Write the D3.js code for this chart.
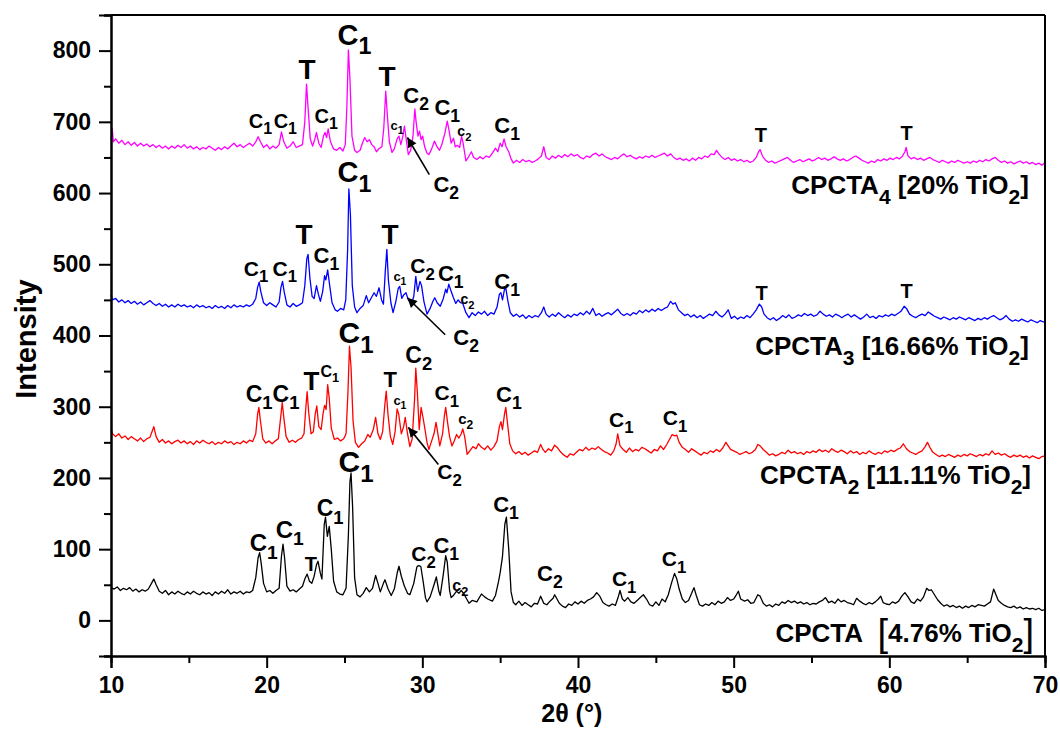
<!DOCTYPE html>
<html>
<head>
<meta charset="utf-8">
<script src="https://cdn.jsdelivr.net/npm/d3@7"></script>
<style>
  body { margin: 0; background: #fff; }
  svg text { font-family: "Liberation Sans", Arial, Helvetica, sans-serif; font-weight: bold; fill: #000; }
</style>
</head>
<body>
<div id="chart"></div>
<script>
// tick values
var xTicks = [10, 20, 30, 40, 50, 60, 70];
var xMinor = [15, 25, 35, 45, 55, 65];
var yTicks = [0, 100, 200, 300, 400, 500, 600, 700, 800];
var yMinor = [-50, 50, 150, 250, 350, 450, 550, 650, 750, 850];

// CPCTA [4.76% TiO2]  (2theta, intensity)
var cpcta = [[10.0,46],[10.2,44],[10.4,47],[10.6,42],[10.8,45],[11.0,43],[11.2,46],[11.4,41],[11.6,44],[11.8,40],[12.0,43],[12.2,41],[12.4,44],[12.6,52],[12.75,58],[12.9,50],[13.1,41],[13.3,38],[13.5,42],[13.7,36],[13.9,40],[14.1,37],[14.3,41],[14.5,38],[14.7,36],[14.9,40],[15.1,37],[15.3,41],[15.5,38],[15.7,36],[15.9,40],[16.1,37],[16.3,39],[16.5,35],[16.7,40],[16.9,37],[17.1,41],[17.3,38],[17.5,43],[17.7,37],[17.9,40],[18.1,38],[18.3,41],[18.5,37],[18.7,40],[18.9,39],[19.1,42],[19.3,60],[19.45,88],[19.55,95],[19.65,80],[19.8,52],[20.0,40],[20.2,42],[20.4,38],[20.6,42],[20.8,45],[20.95,90],[21.05,107],[21.15,88],[21.3,48],[21.5,41],[21.7,43],[21.9,40],[22.1,44],[22.3,48],[22.45,58],[22.6,65],[22.75,55],[22.9,52],[23.05,62],[23.2,78],[23.3,83],[23.45,66],[23.55,58],[23.7,135],[23.78,145],[23.9,118],[24.02,132],[24.15,100],[24.3,55],[24.5,40],[24.7,37],[24.9,36],[25.1,45],[25.25,120],[25.35,195],[25.42,207],[25.52,160],[25.65,60],[25.8,36],[26.0,33],[26.2,38],[26.4,46],[26.6,40],[26.8,45],[27.0,63],[27.15,52],[27.3,40],[27.5,52],[27.6,57],[27.8,44],[28.0,35],[28.2,44],[28.4,68],[28.5,76],[28.65,62],[28.85,48],[29.05,38],[29.2,36],[29.45,52],[29.65,75],[29.75,77],[29.9,76],[30.05,55],[30.2,32],[30.3,26],[30.5,33],[30.75,50],[30.9,61],[31.05,42],[31.15,35],[31.35,65],[31.5,91],[31.6,82],[31.75,42],[31.85,32],[32.0,35],[32.2,41],[32.35,38],[32.5,42],[32.65,38],[32.85,30],[33.0,24],[33.2,28],[33.5,26],[33.8,37],[34.0,33],[34.2,30],[34.5,27],[34.7,35],[34.9,55],[35.0,67],[35.15,90],[35.3,135],[35.4,145],[35.55,100],[35.7,40],[35.85,25],[36.0,22],[36.2,27],[36.4,21],[36.6,25],[36.8,22],[37.0,19],[37.2,24],[37.4,23],[37.6,34],[37.8,24],[38.0,22],[38.2,27],[38.4,31],[38.5,36],[38.65,30],[38.8,24],[39.0,20],[39.2,18],[39.4,23],[39.6,21],[39.8,26],[40.0,23],[40.2,27],[40.4,24],[40.6,28],[40.8,30],[41.0,33],[41.2,39],[41.4,34],[41.6,25],[41.8,22],[42.0,20],[42.2,23],[42.4,21],[42.6,34],[42.7,42],[42.85,30],[43.0,27],[43.2,32],[43.4,26],[43.6,24],[43.8,28],[44.0,32],[44.2,36],[44.4,30],[44.6,22],[44.8,20],[45.0,26],[45.2,21],[45.4,30],[45.6,26],[45.8,36],[46.0,52],[46.2,66],[46.35,58],[46.5,44],[46.7,30],[46.9,25],[47.1,28],[47.3,38],[47.45,46],[47.6,35],[47.8,22],[48.0,20],[48.2,23],[48.4,21],[48.6,25],[48.8,22],[49.0,27],[49.2,24],[49.4,26],[49.6,32],[49.8,28],[50.0,30],[50.15,35],[50.3,41],[50.45,30],[50.7,27],[50.9,29],[51.1,24],[51.3,25],[51.55,36],[51.7,34],[51.9,24],[52.1,20],[52.3,22],[52.5,19],[52.7,23],[52.9,21],[53.1,26],[53.3,24],[53.5,28],[53.7,25],[53.9,27],[54.1,24],[54.3,26],[54.5,23],[54.7,25],[54.9,22],[55.1,24],[55.3,23],[55.5,26],[55.7,28],[55.9,32],[56.1,25],[56.3,27],[56.5,24],[56.7,30],[56.9,26],[57.1,28],[57.3,25],[57.5,24],[57.7,22],[57.9,31],[58.1,27],[58.3,24],[58.5,22],[58.7,25],[58.9,23],[59.1,26],[59.3,30],[59.45,34],[59.6,25],[59.8,23],[60.0,22],[60.2,26],[60.4,24],[60.6,27],[60.8,34],[61.0,39],[61.2,33],[61.4,26],[61.6,24],[61.8,30],[62.0,27],[62.2,33],[62.4,45],[62.55,42],[62.7,43],[62.9,36],[63.1,29],[63.3,24],[63.5,20],[63.7,22],[63.9,19],[64.1,21],[64.3,18],[64.5,20],[64.7,17],[64.9,20],[65.1,18],[65.3,21],[65.5,19],[65.7,22],[65.9,21],[66.1,20],[66.3,23],[66.5,26],[66.7,44],[66.85,36],[67.0,28],[67.2,24],[67.4,21],[67.6,19],[67.8,18],[68.0,20],[68.2,17],[68.4,19],[68.6,16],[68.8,18],[69.0,16],[69.2,17],[69.4,15],[69.6,17],[69.8,14],[70.0,15]];

// CPCTA2 [11.11% TiO2]
var cpcta2 = [[10.0,268],[10.1,262],[10.3,258],[10.5,262],[10.7,256],[10.9,259],[11.1,254],[11.3,258],[11.5,255],[11.7,252],[11.9,256],[12.1,251],[12.3,255],[12.5,257],[12.65,266],[12.75,272],[12.9,258],[13.1,250],[13.3,254],[13.5,249],[13.7,252],[13.9,248],[14.1,251],[14.3,253],[14.5,249],[14.7,252],[14.9,248],[15.1,251],[15.3,247],[15.5,252],[15.7,249],[15.9,253],[16.1,250],[16.3,248],[16.5,251],[16.7,247],[16.9,250],[17.1,248],[17.3,252],[17.5,249],[17.7,251],[17.9,247],[18.1,250],[18.3,248],[18.5,252],[18.7,249],[18.9,253],[19.1,251],[19.3,262],[19.42,290],[19.5,299],[19.6,280],[19.75,255],[19.95,249],[20.15,252],[20.35,248],[20.55,252],[20.75,255],[20.9,285],[21.0,306],[21.1,285],[21.25,258],[21.45,250],[21.65,253],[21.85,250],[22.05,254],[22.25,256],[22.4,262],[22.52,300],[22.6,321],[22.7,292],[22.85,262],[23.0,265],[23.12,290],[23.22,301],[23.35,272],[23.5,268],[23.62,290],[23.72,302],[23.82,296],[23.92,331],[24.02,312],[24.15,270],[24.35,254],[24.55,256],[24.75,252],[24.95,255],[25.1,262],[25.22,320],[25.32,385],[25.42,355],[25.55,280],[25.7,250],[25.9,243],[26.1,248],[26.3,252],[26.5,261],[26.65,257],[26.85,268],[27.0,285],[27.15,262],[27.3,254],[27.45,265],[27.58,300],[27.68,322],[27.8,288],[27.95,258],[28.1,247],[28.25,265],[28.38,297],[28.48,290],[28.65,262],[28.8,272],[28.9,285],[29.05,262],[29.2,244],[29.35,255],[29.5,310],[29.58,354],[29.68,320],[29.8,268],[29.92,299],[30.05,284],[30.15,271],[30.3,250],[30.42,240],[30.6,252],[30.75,262],[30.88,278],[31.0,262],[31.12,245],[31.3,262],[31.42,288],[31.5,299],[31.62,278],[31.75,258],[31.9,245],[32.05,252],[32.2,261],[32.35,256],[32.5,262],[32.6,269],[32.72,258],[32.88,233],[33.05,238],[33.25,244],[33.45,241],[33.6,248],[33.8,243],[34.0,240],[34.2,245],[34.4,239],[34.6,244],[34.8,252],[34.95,272],[35.05,279],[35.15,268],[35.28,290],[35.36,299],[35.48,275],[35.62,248],[35.8,238],[36.0,234],[36.2,237],[36.4,233],[36.6,236],[36.8,232],[37.0,235],[37.2,238],[37.4,236],[37.6,247],[37.75,240],[37.9,236],[38.1,241],[38.3,238],[38.5,246],[38.7,242],[38.9,236],[39.1,232],[39.3,229],[39.5,234],[39.7,232],[39.9,236],[40.1,240],[40.3,238],[40.5,243],[40.7,239],[40.9,242],[41.1,240],[41.3,244],[41.5,240],[41.7,237],[41.9,235],[42.1,232],[42.3,238],[42.45,248],[42.55,262],[42.7,245],[42.9,240],[43.1,236],[43.3,242],[43.5,237],[43.7,240],[43.9,238],[44.1,243],[44.3,241],[44.5,238],[44.7,235],[44.9,240],[45.1,238],[45.3,245],[45.5,240],[45.7,247],[45.9,255],[46.05,261],[46.2,259],[46.35,260],[46.5,250],[46.7,243],[46.9,240],[47.1,236],[47.3,241],[47.5,238],[47.7,235],[47.9,232],[48.1,236],[48.3,234],[48.5,238],[48.7,236],[48.9,240],[49.1,237],[49.3,242],[49.5,250],[49.65,245],[49.8,240],[50.0,238],[50.2,236],[50.4,233],[50.6,235],[50.8,237],[51.0,234],[51.2,236],[51.4,240],[51.55,247],[51.7,245],[51.9,240],[52.1,236],[52.3,232],[52.5,234],[52.7,231],[52.9,233],[53.1,236],[53.3,234],[53.5,239],[53.7,235],[53.9,237],[54.1,234],[54.3,236],[54.5,233],[54.7,237],[54.9,235],[55.1,238],[55.3,236],[55.5,240],[55.7,237],[55.9,239],[56.1,236],[56.3,241],[56.5,238],[56.7,236],[56.9,239],[57.1,237],[57.3,234],[57.5,238],[57.7,235],[57.9,237],[58.1,233],[58.3,236],[58.5,234],[58.7,238],[58.9,235],[59.1,233],[59.3,236],[59.5,234],[59.7,238],[59.9,236],[60.1,239],[60.3,237],[60.5,240],[60.7,242],[60.9,248],[61.1,241],[61.3,237],[61.5,235],[61.7,233],[61.9,236],[62.1,238],[62.3,244],[62.45,250],[62.6,243],[62.8,236],[63.0,233],[63.2,230],[63.4,232],[63.6,230],[63.8,233],[64.0,231],[64.2,229],[64.4,232],[64.6,230],[64.8,233],[65.0,231],[65.2,234],[65.4,232],[65.6,230],[65.8,233],[66.0,231],[66.2,234],[66.4,232],[66.6,238],[66.8,233],[67.0,235],[67.2,232],[67.4,234],[67.6,231],[67.8,229],[68.0,232],[68.2,230],[68.4,232],[68.6,229],[68.8,231],[69.0,228],[69.2,231],[69.4,229],[69.6,227],[69.8,230],[70.0,231]];

// CPCTA3 [16.66% TiO2]
var cpcta3 = [[10.0,457],[10.1,450],[10.3,452],[10.5,447],[10.7,450],[10.9,446],[11.1,449],[11.3,445],[11.5,448],[11.7,444],[11.9,447],[12.1,443],[12.3,446],[12.5,449],[12.7,445],[12.9,442],[13.1,445],[13.3,441],[13.5,444],[13.7,440],[13.9,443],[14.1,440],[14.3,444],[14.5,441],[14.7,443],[14.9,440],[15.1,442],[15.3,439],[15.5,443],[15.7,440],[15.9,442],[16.1,439],[16.3,441],[16.5,438],[16.7,442],[16.9,439],[17.1,441],[17.3,438],[17.5,442],[17.7,439],[17.9,443],[18.1,440],[18.3,442],[18.5,440],[18.7,443],[18.9,441],[19.1,444],[19.3,452],[19.42,468],[19.52,475],[19.62,462],[19.8,446],[20.0,442],[20.2,446],[20.4,443],[20.6,440],[20.8,447],[20.92,468],[21.02,476],[21.12,462],[21.3,443],[21.5,440],[21.7,445],[21.9,441],[22.1,443],[22.3,446],[22.45,470],[22.58,508],[22.66,514],[22.78,480],[22.92,455],[23.05,452],[23.2,470],[23.32,458],[23.45,448],[23.6,462],[23.72,484],[23.8,478],[23.92,492],[24.05,470],[24.2,446],[24.4,436],[24.55,434],[24.75,438],[24.95,436],[25.08,450],[25.2,520],[25.28,606],[25.38,570],[25.5,470],[25.65,440],[25.8,432],[26.0,438],[26.2,442],[26.4,456],[26.55,446],[26.7,452],[26.9,460],[27.05,455],[27.22,467],[27.38,450],[27.5,444],[27.62,490],[27.72,521],[27.82,478],[27.98,446],[28.12,432],[28.3,448],[28.45,466],[28.55,469],[28.68,452],[28.8,457],[28.95,460],[29.1,450],[29.3,445],[29.45,455],[29.58,483],[29.7,462],[29.85,476],[29.95,470],[30.1,448],[30.3,430],[30.5,438],[30.68,448],[30.8,453],[30.95,446],[31.15,441],[31.35,452],[31.5,465],[31.58,460],[31.7,472],[31.85,462],[32.0,453],[32.15,445],[32.3,450],[32.45,446],[32.6,445],[32.8,432],[33.0,425],[33.2,432],[33.4,428],[33.6,433],[33.8,430],[34.0,434],[34.2,428],[34.4,432],[34.6,430],[34.8,440],[34.95,458],[35.05,460],[35.15,450],[35.28,465],[35.36,467],[35.5,448],[35.65,432],[35.85,427],[36.05,430],[36.25,426],[36.45,429],[36.65,424],[36.85,428],[37.05,425],[37.25,428],[37.45,426],[37.65,432],[37.8,440],[37.95,430],[38.15,426],[38.35,430],[38.55,427],[38.75,432],[38.95,428],[39.15,425],[39.35,429],[39.55,426],[39.75,430],[39.95,428],[40.15,432],[40.35,429],[40.55,434],[40.75,430],[40.95,438],[41.15,428],[41.35,431],[41.55,427],[41.75,430],[41.95,432],[42.15,429],[42.35,433],[42.55,437],[42.75,431],[42.95,428],[43.15,431],[43.35,428],[43.55,432],[43.75,430],[43.95,435],[44.15,432],[44.35,436],[44.55,433],[44.75,437],[44.95,434],[45.15,438],[45.35,435],[45.55,438],[45.75,440],[45.95,448],[46.1,444],[46.25,446],[46.45,436],[46.65,432],[46.85,428],[47.05,430],[47.25,426],[47.45,429],[47.65,425],[47.85,428],[48.05,424],[48.25,427],[48.45,430],[48.65,428],[48.85,434],[49.05,429],[49.25,426],[49.45,430],[49.65,436],[49.85,424],[50.05,427],[50.25,423],[50.45,426],[50.65,424],[50.85,428],[51.05,425],[51.25,430],[51.45,436],[51.65,444],[51.8,440],[51.95,430],[52.15,425],[52.35,422],[52.55,425],[52.75,421],[52.95,424],[53.15,428],[53.35,425],[53.55,429],[53.75,424],[53.95,426],[54.15,429],[54.35,427],[54.55,431],[54.75,428],[54.95,430],[55.15,427],[55.35,429],[55.55,434],[55.75,430],[55.95,427],[56.15,429],[56.35,426],[56.55,430],[56.75,428],[56.95,425],[57.15,428],[57.35,430],[57.55,426],[57.75,429],[57.95,426],[58.15,423],[58.35,426],[58.55,430],[58.75,425],[58.95,427],[59.15,424],[59.35,428],[59.55,426],[59.75,429],[59.95,427],[60.15,430],[60.35,428],[60.55,431],[60.75,434],[60.95,441],[61.1,438],[61.3,430],[61.5,427],[61.7,425],[61.9,428],[62.1,430],[62.3,428],[62.5,433],[62.7,430],[62.9,427],[63.1,425],[63.3,423],[63.5,426],[63.7,424],[63.9,422],[64.1,425],[64.3,423],[64.5,426],[64.7,424],[64.9,422],[65.1,425],[65.3,423],[65.5,421],[65.7,424],[65.9,422],[66.1,425],[66.3,423],[66.5,426],[66.7,428],[66.9,425],[67.1,422],[67.3,424],[67.5,428],[67.7,423],[67.9,420],[68.1,422],[68.3,420],[68.5,423],[68.7,421],[68.9,419],[69.1,422],[69.3,420],[69.5,418],[69.7,421],[69.9,419],[70.0,420]];

// CPCTA4 [20% TiO2]
var cpcta4 = [[10.0,675],[10.08,690],[10.15,672],[10.3,676],[10.5,670],[10.7,674],[10.9,668],[11.1,672],[11.3,667],[11.5,671],[11.7,666],[11.9,670],[12.1,666],[12.3,669],[12.5,665],[12.7,668],[12.9,664],[13.1,667],[13.3,663],[13.5,666],[13.7,662],[13.9,666],[14.1,663],[14.3,667],[14.5,664],[14.7,668],[14.9,663],[15.1,666],[15.3,662],[15.5,665],[15.7,661],[15.9,664],[16.1,662],[16.3,666],[16.5,663],[16.7,660],[16.9,664],[17.1,661],[17.3,665],[17.5,662],[17.7,666],[17.9,670],[18.1,665],[18.3,668],[18.5,664],[18.7,667],[18.9,670],[19.1,666],[19.3,672],[19.45,679],[19.6,672],[19.8,664],[20.0,668],[20.2,662],[20.4,666],[20.6,663],[20.8,668],[20.95,686],[21.1,672],[21.3,663],[21.5,666],[21.7,672],[21.9,664],[22.1,666],[22.3,668],[22.45,700],[22.56,753],[22.66,720],[22.8,676],[22.95,666],[23.1,676],[23.2,685],[23.35,670],[23.5,664],[23.65,680],[23.75,685],[23.85,678],[23.95,690],[24.1,672],[24.3,662],[24.5,660],[24.7,664],[24.9,659],[25.05,668],[25.15,720],[25.25,801],[25.35,760],[25.48,680],[25.65,660],[25.8,657],[26.0,660],[26.15,670],[26.3,678],[26.45,672],[26.6,675],[26.75,668],[26.9,665],[27.05,658],[27.2,662],[27.4,665],[27.52,690],[27.65,743],[27.75,710],[27.88,672],[28.05,657],[28.2,662],[28.38,676],[28.5,680],[28.62,668],[28.75,680],[28.85,694],[28.95,678],[29.1,654],[29.25,660],[29.4,680],[29.52,718],[29.6,700],[29.72,680],[29.82,687],[29.92,675],[30.02,680],[30.15,665],[30.3,656],[30.42,654],[30.6,662],[30.78,673],[30.92,666],[31.1,660],[31.25,668],[31.45,684],[31.6,701],[31.7,690],[31.85,670],[32.0,677],[32.12,665],[32.25,667],[32.4,664],[32.52,680],[32.62,670],[32.8,645],[32.95,650],[33.15,658],[33.3,650],[33.5,647],[33.7,651],[33.9,648],[34.1,652],[34.3,650],[34.5,656],[34.7,663],[34.85,658],[35.0,670],[35.12,665],[35.25,676],[35.38,665],[35.55,658],[35.7,648],[35.85,642],[36.05,646],[36.25,643],[36.45,647],[36.65,644],[36.85,646],[37.05,643],[37.25,645],[37.45,648],[37.65,652],[37.8,665],[37.95,650],[38.15,647],[38.35,652],[38.55,649],[38.75,653],[38.95,650],[39.15,654],[39.35,651],[39.55,655],[39.75,652],[39.95,654],[40.15,650],[40.35,648],[40.55,652],[40.75,650],[40.95,654],[41.15,656],[41.35,652],[41.55,655],[41.75,651],[41.95,649],[42.15,647],[42.35,650],[42.55,648],[42.75,652],[42.95,655],[43.15,651],[43.35,653],[43.55,650],[43.75,648],[43.95,651],[44.15,649],[44.35,652],[44.55,650],[44.75,653],[44.95,650],[45.15,652],[45.35,654],[45.55,656],[45.75,652],[45.95,655],[46.15,650],[46.35,647],[46.55,649],[46.75,646],[46.95,648],[47.15,645],[47.35,649],[47.55,646],[47.75,650],[47.95,648],[48.15,652],[48.35,650],[48.55,655],[48.75,654],[48.9,660],[49.05,655],[49.25,650],[49.45,647],[49.65,650],[49.85,646],[50.05,648],[50.25,645],[50.45,647],[50.65,644],[50.85,646],[51.05,643],[51.25,645],[51.45,650],[51.6,658],[51.7,661],[51.85,652],[52.05,646],[52.25,643],[52.45,645],[52.65,642],[52.85,644],[53.05,646],[53.25,648],[53.45,650],[53.65,646],[53.85,643],[54.05,645],[54.25,647],[54.45,644],[54.65,646],[54.85,648],[55.05,645],[55.25,647],[55.45,650],[55.65,647],[55.85,649],[56.05,646],[56.25,648],[56.45,651],[56.65,648],[56.85,646],[57.05,648],[57.25,645],[57.45,647],[57.65,650],[57.85,652],[58.05,649],[58.25,646],[58.45,644],[58.65,642],[58.85,645],[59.05,643],[59.25,647],[59.45,645],[59.65,648],[59.85,646],[60.05,649],[60.25,647],[60.45,650],[60.65,648],[60.85,652],[61.0,658],[61.08,664],[61.2,652],[61.4,648],[61.6,650],[61.8,647],[62.0,649],[62.2,646],[62.4,648],[62.6,650],[62.8,647],[63.0,645],[63.2,643],[63.4,646],[63.6,644],[63.8,642],[64.0,645],[64.2,643],[64.4,646],[64.6,644],[64.8,642],[65.0,644],[65.2,642],[65.4,645],[65.6,643],[65.8,646],[66.0,644],[66.2,647],[66.4,645],[66.6,648],[66.8,650],[67.0,646],[67.2,643],[67.4,645],[67.6,642],[67.8,644],[68.0,641],[68.2,643],[68.4,645],[68.6,642],[68.8,644],[69.0,641],[69.2,643],[69.4,640],[69.6,642],[69.8,639],[70.0,643]];

var seriesData = [cpcta, cpcta2, cpcta3, cpcta4];
var seriesColors = ['#000000', '#ff0000', '#0000ff', '#ff00ff'];

// peak labels: [2theta, intensity (text baseline), text, subscript, font px]
var peakLabels = [
  // CPCTA4
  [18.85,692,'C','1',20],[20.45,692,'C','1',20],[22.05,760,'T','',28],[23.08,699,'C','1',20],
  [24.55,808,'C','1',29],[27.18,751,'T','',28],[27.95,689,'c','1',13],[28.78,727,'C','2',22],
  [30.78,710,'C','1',22],[32.25,680,'c','2',14],[34.62,685,'C','1',22],[30.71,601,'C','2',22],
  [51.35,672,'T','',20],[60.71,675,'T','',20],
  // CPCTA3
  [18.53,484,'C','1',21],[20.38,484,'C','1',21],[21.86,528,'T','',28],[23.01,502,'C','1',22],
  [24.55,615,'C','1',29],[27.37,528,'T','',28],[28.14,477,'c','1',13],[29.23,488,'C','2',21],
  [31.0,476,'C','1',22],[32.45,444,'c','2',14],[34.62,465,'C','1',22],[31.99,387,'C','2',22],
  [51.41,450,'T','',20],[60.71,452,'T','',20],
  // CPCTA2
  [18.65,307,'C','1',23],[20.38,307,'C','1',23],[22.37,324,'T','',26],[23.46,342,'C','1',16],
  [24.62,389,'C','1',30],[27.5,328,'T','',22],[28.14,303,'c','1',13],[28.91,362,'C','2',23],
  [30.78,309,'C','1',21],[32.3,276,'c','2',15],[34.74,306,'C','1',22],[30.96,198,'C','2',21],
  [41.99,272,'C','1',21],[45.45,274,'C','1',21],
  // CPCTA
  [18.91,97,'C','1',24],[20.58,116,'C','1',24],[22.44,69,'T','',20],[23.21,146,'C','1',23],
  [24.62,208,'C','1',30],[29.29,83,'C','2',21],[30.71,95,'C','1',22],[31.92,41,'c','2',16],
  [34.55,152,'C','1',22],[37.37,55,'C','2',22],[42.18,48,'C','1',21],[45.38,76,'C','1',21]
];

// arrows: [from 2theta, from I, to 2theta, to I]
var arrows = [
  [30.45,626,29.04,678],
  [31.47,401,29.04,453],
  [31.03,219,29.10,271]
];

// series names: [right end 2theta, baseline intensity, parts]
var seriesLabels = [
  [68.97, 598, [['CPCTA',''],['4','s'],[' [20% TiO',''],['2','s'],[']','']]],
  [68.97, 373, [['CPCTA',''],['3','s'],[' [16.66% TiO',''],['2','s'],[']','']]],
  [69.1, 191, [['CPCTA',''],['2','s'],[' [11.11% TiO',''],['2','s'],[']','']]],
  [69.3, -30, [['CPCTA\u00a0\u00a0',''],['[','b'],['4.76% TiO',''],['2','s'],[']','b']]]
];

var W = 1060, H = 731;
var margin = {left: 111, top: 15, right: 15, bottom: 75};
var iw = W - margin.left - margin.right, ih = H - margin.top - margin.bottom;

var svg = d3.select('#chart').append('svg').attr('width', W).attr('height', H);
var g = svg.append('g').attr('transform', 'translate(' + margin.left + ',' + margin.top + ')');

var x = d3.scaleLinear().domain([10, 70]).range([0, iw]);
var y = d3.scaleLinear().domain([-50, 850]).range([ih, 0]);

svg.append('defs').append('marker')
  .attr('id', 'ah').attr('viewBox', '0 0 10 10').attr('refX', 10).attr('refY', 5)
  .attr('markerWidth', 7).attr('markerHeight', 6).attr('markerUnits', 'strokeWidth')
  .attr('orient', 'auto')
  .append('path').attr('d', 'M0,0 L10,5 L0,10 z').attr('fill', '#000');

// patterns
var line = d3.line().x(function (d) { return x(d[0]); }).y(function (d) { return y(d[1]); });
g.selectAll('path.xrd').data(seriesData).enter().append('path')
  .attr('class', 'xrd')
  .attr('d', line)
  .attr('fill', 'none')
  .attr('stroke', function (d, i) { return seriesColors[i]; })
  .attr('stroke-width', 1.3)
  .attr('stroke-linejoin', 'round');

// axes
var xAxis = g.append('g').attr('transform', 'translate(0,' + ih + ')')
  .call(d3.axisBottom(x).tickValues(xTicks).tickSize(12).tickPadding(9).tickFormat(d3.format('d')));
g.append('g').attr('transform', 'translate(0,' + ih + ')')
  .call(d3.axisBottom(x).tickValues(xMinor).tickSize(7).tickFormat(''));
var yAxis = g.append('g')
  .call(d3.axisLeft(y).tickValues(yTicks).tickSize(12).tickPadding(8).tickFormat(d3.format('d')));
g.append('g')
  .call(d3.axisLeft(y).tickValues(yMinor).tickSize(7).tickFormat(''));
g.selectAll('.domain').attr('stroke-width', 2);
g.selectAll('.tick line').attr('stroke-width', 2);
xAxis.selectAll('text').style('font-size', '23px');
yAxis.selectAll('text').style('font-size', '23px');
svg.selectAll('.tick text').attr('fill', '#000');

// frame top and right
g.append('line').attr('x1', 0).attr('x2', iw).attr('y1', 0).attr('y2', 0).attr('stroke', '#000').attr('stroke-width', 2);
g.append('line').attr('x1', iw).attr('x2', iw).attr('y1', 0).attr('y2', ih).attr('stroke', '#000').attr('stroke-width', 2);

// axis titles
svg.append('text').attr('transform', 'translate(36,' + (margin.top + y(395)) + ') rotate(-90)')
  .attr('text-anchor', 'middle').style('font-size', '29px').text('Intensity');
svg.append('text').attr('x', margin.left + x(39.6)).attr('y', 722)
  .attr('text-anchor', 'middle').style('font-size', '25px').text('2θ (°)');

// peak labels
peakLabels.forEach(function (d) {
  var t = g.append('text').attr('x', x(d[0])).attr('y', y(d[1])).style('font-size', d[4] + 'px');
  t.append('tspan').text(d[2]);
  if (d[3]) t.append('tspan').attr('dy', d[4] * 0.32).style('font-size', (d[4] * 0.8) + 'px').text(d[3]);
});

// arrows
g.selectAll('line.arr').data(arrows).enter().append('line')
  .attr('class', 'arr')
  .attr('x1', function (d) { return x(d[0]); }).attr('y1', function (d) { return y(d[1]); })
  .attr('x2', function (d) { return x(d[2]); }).attr('y2', function (d) { return y(d[3]); })
  .attr('stroke', '#000').attr('stroke-width', 1.6).attr('marker-end', 'url(#ah)');

// series names
seriesLabels.forEach(function (s) {
  var size = 26;
  var t = g.append('text').attr('x', x(s[0])).attr('y', y(s[1]))
    .attr('text-anchor', 'end').style('font-size', size + 'px');
  var shift = 0;
  s[2].forEach(function (p) {
    var ts = t.append('tspan').text(p[0]);
    if (p[1] === 's') {
      ts.attr('dy', 10 - shift).style('font-size', '21px');
      shift = 10;
    } else if (p[1] === 'b') {
      ts.attr('dy', 4 - shift).style('font-size', '38px').style('font-weight', 'normal');
      shift = 4;
    } else {
      ts.attr('dy', 0 - shift);
      shift = 0;
    }
  });
});
</script>
</body>
</html>
